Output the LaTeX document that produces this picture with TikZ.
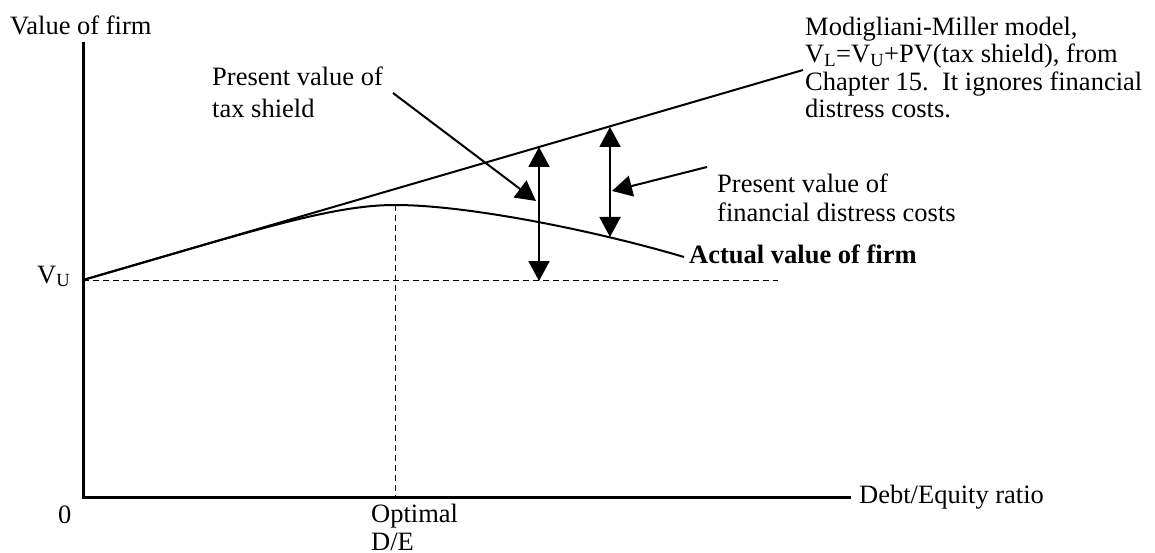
\documentclass[tikz,border=0pt]{standalone}
\usepackage{fontspec}
\setmainfont{Liberation Serif}
\usetikzlibrary{arrows.meta}
\begin{document}
\begin{tikzpicture}[x=1pt,y=-1pt,
  lbl/.style={inner sep=0pt,anchor=base west,align=left,font=\fontsize{26.5}{28}\selectfont},
  axis/.style={line width=3pt},
  thin/.style={line width=2pt},
  guide/.style={line width=1pt,dash pattern=on 6pt off 4pt},
  big/.style={line width=2pt,-{Triangle[length=20pt,width=21pt]}},
  dbl/.style={line width=2pt,{Triangle[length=20pt,width=21pt]}-{Triangle[length=20pt,width=21pt]}}]
\useasboundingbox (0,0) rectangle (1155,553);
% coordinates
\coordinate (O) at (83,497);
\coordinate (ytop) at (83,42);
\coordinate (xend) at (851,497);
\coordinate (VU) at (83,280);
\coordinate (vuend) at (778,280);
\coordinate (mmend) at (803,70);
\coordinate (peak) at (395,205);
\coordinate (peakdown) at (395,497);
\coordinate (cend) at (684,257);
\coordinate (a1top) at (539,147);
\coordinate (a1bot) at (539,281);
\coordinate (a2top) at (610,127);
\coordinate (a2bot) at (610,237);
\coordinate (tsstart) at (393,93);
\coordinate (tstip) at (536,201);
\coordinate (fdstart) at (707,167);
\coordinate (fdtip) at (612,191);
% texts (base = baseline of the last line)
\node[lbl] (yl) at (10,35) {Value of firm};
\node[lbl] (vu) at (37,283) {V\textsubscript{U}};
\node[lbl] (zero) at (58,523) {0};
\node[lbl] (opt) at (371,550) {Optimal\\D/E};
\node[lbl] (xl) at (859,503) {Debt/Equity ratio};
\node[lbl,font=\fontsize{26.5}{27.5}\selectfont] (mm) at (805,118) {Modigliani-Miller model,\\V\textsubscript{L}=V\textsubscript{U}+PV(tax shield), from\\Chapter 15.\ \ It ignores financial\\distress costs.};
\node[lbl,font=\fontsize{26.5}{32}\selectfont] (ts) at (212,118) {Present value of\\tax shield};
\node[lbl,font=\fontsize{26.5}{29}\selectfont] (fd) at (717,222) {Present value of\\financial distress costs};
\node[lbl,font=\fontsize{26.5}{28}\selectfont\bfseries] (av) at (689,263) {Actual value of firm};
% guides
\draw[guide] (VU) -- (vuend);
\draw[guide] (peak) -- (peakdown);
% axes
\draw[axis] (ytop) -- (O) -- (xend);
% MM line and actual value curve
\draw[thin] (VU) -- (mmend);
\draw[thin] (VU) .. controls (250,232) and (330,205) .. (peak)
  .. controls (470,205) and (600,232) .. (cend);
% arrows
\draw[dbl] (a1top) -- (a1bot);
\draw[dbl] (a2top) -- (a2bot);
\draw[big] (tsstart) -- (tstip);
\draw[big] (fdstart) -- (fdtip);
\end{tikzpicture}
\end{document}
